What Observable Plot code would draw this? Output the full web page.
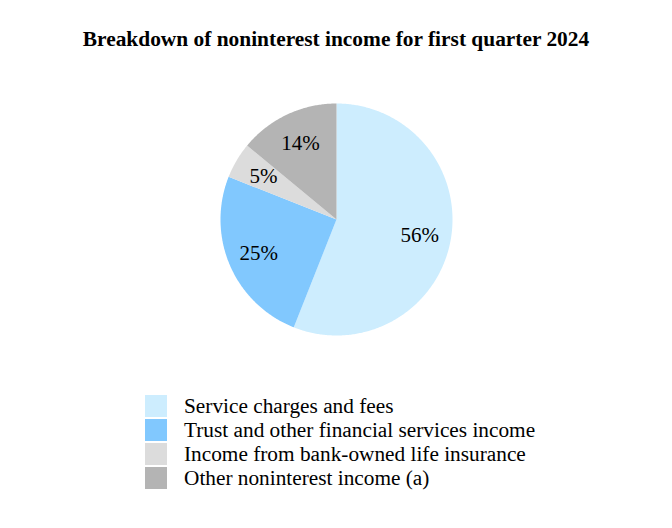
<!DOCTYPE html>
<html>
<head>
<meta charset="utf-8">
<script src="https://cdn.jsdelivr.net/npm/d3@7"></script>
<script src="https://cdn.jsdelivr.net/npm/@observablehq/plot@0.6"></script>
<style>
  body { margin: 0; background: #fff; width: 672px; font-family: "Liberation Serif", "Times New Roman", serif; }
  #title { text-align: center; font-weight: bold; font-size: 21.4px; line-height: 24px; padding-top: 27px; height: 43px; color: #000; }
  #legend { margin-top: 24px; margin-left: 145px; }
  .row { display: flex; align-items: center; height: 24px; }
  .sw { width: 22px; height: 22px; margin-right: 17px; }
  .lab { font-size: 21.3px; color: #000; line-height: 24px; }
</style>
</head>
<body>
<div id="title">Breakdown of noninterest income for first quarter 2024</div>
<div id="chart"></div>
<div id="legend"></div>
<script>
const categories = [
  "Service charges and fees",
  "Trust and other financial services income",
  "Income from bank-owned life insurance",
  "Other noninterest income (a)"
];
const shares = [56, 25, 5, 14];
const labels = ["56%", "25%", "5%", "14%"];
const colors = ["#cdedfe", "#81c8fe", "#dcdcdc", "#b4b4b4"];

const rows = categories.map((c, i) => ({cat: c, value: shares[i], label: labels[i]}));
const arcs = d3.pie().sort(null).value(d => d.value).startAngle(0).endAngle(2 * Math.PI)(rows);

// polygon points for each slice (unit circle, angle clockwise from top)
const pts = [];
arcs.forEach(a => {
  const cat = a.data.cat;
  pts.push({cat, x: 0, y: 0});
  const n = Math.max(4, Math.ceil((a.endAngle - a.startAngle) / 0.01));
  for (let k = 0; k <= n; k++) {
    const t = a.startAngle + (a.endAngle - a.startAngle) * k / n;
    pts.push({cat, x: Math.sin(t), y: Math.cos(t)});
  }
  pts.push({cat, x: 0, y: 0});
});

const lr = 0.73;
const labelPts = arcs.map(a => {
  const t = (a.startAngle + a.endAngle) / 2;
  return {label: a.data.label, x: lr * Math.sin(t), y: lr * Math.cos(t)};
});

const plot = Plot.plot({
  width: 672,
  height: 300,
  marginLeft: 220,
  marginRight: 220,
  marginTop: 33,
  marginBottom: 35,
  x: {domain: [-1, 1], axis: null},
  y: {domain: [-1, 1], axis: null},
  color: {domain: categories, range: colors},
  style: {fontFamily: "'Liberation Serif', 'Times New Roman', serif", background: "#fff"},
  marks: [
    Plot.line(pts, {x: "x", y: "y", z: "cat", fill: "cat", stroke: null, curve: "linear"}),
    Plot.text(labelPts, {x: "x", y: "y", text: "label", fontSize: 21, fill: "#000"})
  ]
});
document.getElementById("chart").appendChild(plot);

const leg = document.getElementById("legend");
categories.forEach((c, i) => {
  const r = document.createElement("div");
  r.className = "row";
  r.innerHTML = `<div class="sw" style="background:${colors[i]}"></div><div class="lab">${c}</div>`;
  leg.appendChild(r);
});
</script>
</body>
</html>
